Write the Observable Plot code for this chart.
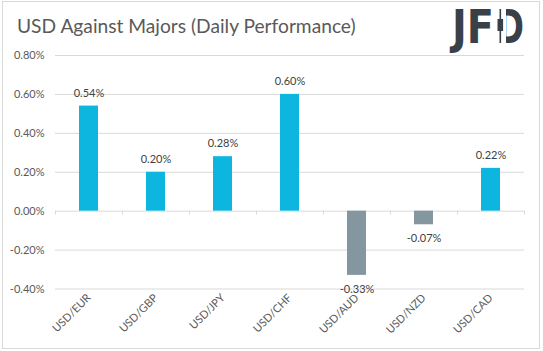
<!DOCTYPE html>
<html>
<head>
<meta charset="utf-8">
<script src="https://cdn.jsdelivr.net/npm/d3@7"></script>
<script src="https://cdn.jsdelivr.net/npm/@observablehq/plot@0.6"></script>
<style>
  html, body { margin: 0; padding: 0; background: #fff; }
  #wrap { position: relative; width: 543px; height: 351px; overflow: hidden; background: #fff; font-family: Lato, "Open Sans", sans-serif; }
  #border { position: absolute; left: 2px; top: 1px; width: 536px; height: 346px; border: 1px solid #d9d9d9; }
  #title { position: absolute; left: 17px; top: 16px; font-size: 19.2px; color: #595959; white-space: nowrap; line-height: 1; }
  #logo { position: absolute; left: 446px; top: 0px; }
  #chart { position: absolute; left: 0; top: 0; }
</style>
</head>
<body>
<div id="wrap">
  <div id="border"></div>
  <div id="chart"></div>
  <div id="title"></div>
  <svg id="logo" width="92" height="62">
    <text x="6" y="43" font-family="DejaVu Sans" font-weight="bold" font-size="46" fill="#3a4047" textLength="42" lengthAdjust="spacingAndGlyphs">JF</text>
    <text x="51" y="43" font-family="DejaVu Sans" font-weight="bold" font-size="46" fill="#3a4047" textLength="27" lengthAdjust="spacingAndGlyphs">D</text>
    <rect x="50" y="4" width="10" height="44" fill="#fff"></rect>
    <rect x="53.5" y="9" width="1.6" height="34" fill="#3a4047"></rect>
    <rect x="51.5" y="19" width="5.6" height="12" fill="#3a4047"></rect>
  </svg>
</div>
<script>
const title = "USD Against Majors (Daily Performance)";
const categories = ["USD/EUR", "USD/GBP", "USD/JPY", "USD/CHF", "USD/AUD", "USD/NZD", "USD/CAD"];
const values = [0.54, 0.20, 0.28, 0.60, -0.33, -0.07, 0.22];
const yTicks = [-0.4, -0.2, 0, 0.2, 0.4, 0.6, 0.8];

document.getElementById("title").textContent = title;

const data = categories.map((c, i) => ({cat: c, value: values[i]}));
const pct = d => (+d).toFixed(2) + "%";
const posColor = "#0cb6de";
const negColor = "#8497a0";

const chart = Plot.plot({
  width: 543,
  height: 351,
  marginLeft: 55,
  marginRight: 19,
  marginTop: 55,
  marginBottom: 62.5,
  style: {fontFamily: "Lato, 'Open Sans', sans-serif", background: "transparent", color: "#595959"},
  x: {domain: categories, paddingInner: 0.716, paddingOuter: 0.358, axis: null, label: null},
  y: {domain: [-0.4, 0.8], axis: null, label: null},
  marks: [
    Plot.ruleY(yTicks, {stroke: "#d9d9d9", strokeWidth: 1}),
    Plot.ruleX(categories, {x: d => d, y1: 0, y2: -0.02, dx: -33.5, stroke: "#d9d9d9"}),
    Plot.ruleX(categories.slice(-1), {x: d => d, y1: 0, y2: -0.02, dx: 33.5, stroke: "#d9d9d9"}),
    Plot.barY(data, {x: "cat", y: "value", fill: d => d.value >= 0 ? posColor : negColor}),
    Plot.text(data.filter(d => d.value >= 0), {x: "cat", y: "value", text: d => pct(d.value), dy: -13, fill: "#404040", fontSize: 11}),
    Plot.text(data.filter(d => d.value < 0), {x: "cat", y: "value", text: d => pct(d.value), dy: 14, fill: "#404040", fontSize: 11}),
    Plot.axisY(yTicks, {tickSize: 0, tickPadding: 11, tickFormat: pct, fill: "#595959", fontSize: 11, label: null}),
    Plot.axisX({tickSize: 0, tickRotate: -45, tickPadding: 7, fill: "#595959", fontSize: 11, label: null})
  ]
});
document.getElementById("chart").appendChild(chart);
</script>
</body>
</html>
